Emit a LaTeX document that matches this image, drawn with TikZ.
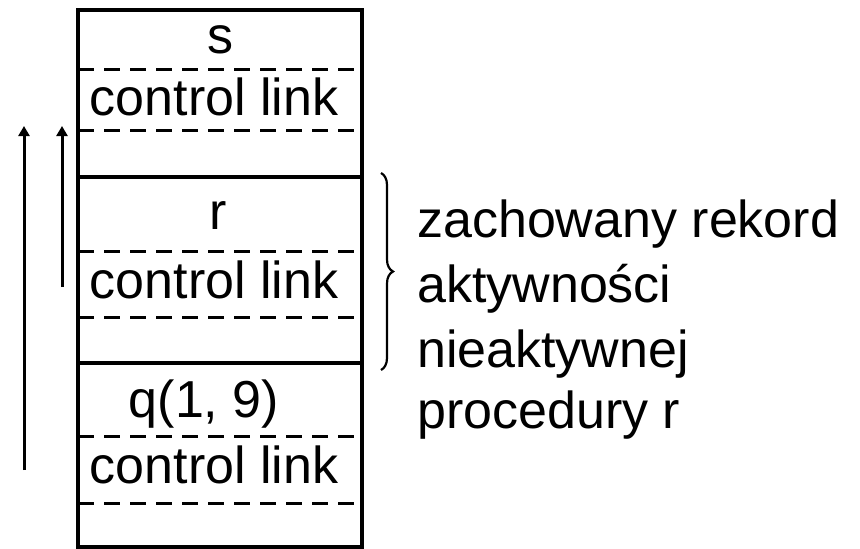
\documentclass[tikz,border=0pt]{standalone}
\usepackage{fontspec}
\setmainfont{Liberation Sans}
\usetikzlibrary{arrows.meta,decorations.pathreplacing}
\begin{document}
\begin{tikzpicture}[x=1pt,y=-1pt,
  frameline/.style={line width=3.2pt},
  sepline/.style={line width=3pt, dash pattern=on 16pt off 10pt},
  celltext/.style={anchor=base, inner sep=0pt, font=\fontsize{52}{62}\selectfont},
  desctext/.style={anchor=base west, inner sep=0pt, font=\fontsize{52}{62}\selectfont},
  linkarrow/.style={line width=3pt, -{Triangle[length=10pt,width=11pt]}},
  bracestyle/.style={line width=2.2pt, decorate, decoration={brace, amplitude=12pt}}
]
\useasboundingbox (0,0) rectangle (860,549);

% stack frame outline
\coordinate (tl) at (78,10);
\coordinate (br) at (362,547);
\draw[frameline] (tl) rectangle (br);

% solid borders between activation records
\draw[frameline] (78,177) -- (362,177);
\draw[frameline] (78,363) -- (362,363);

% dashed borders between fields
\foreach \yy in {69,130,251,317,436,503}
  \draw[sepline] (78,\yy) -- (362,\yy);

% field contents
\node[celltext] (s)   at (220,53)  {s};
\node[celltext] (cl1) at (214,115) {control link};
\node[celltext] (r)   at (218,229) {r};
\node[celltext] (cl2) at (214,298) {control link};
\node[celltext] (q)   at (204,417) {q(1, 9)};
\node[celltext] (cl3) at (214,483) {control link};

% control link arrows
\coordinate (a1s) at (24,470);
\coordinate (a1e) at (24,126);
\coordinate (a2s) at (62,287);
\coordinate (a2e) at (62,126);
\draw[linkarrow] (a1s) -- (a1e);
\draw[linkarrow] (a2s) -- (a2e);

% brace around the saved record
\coordinate (bt) at (381,173);
\coordinate (bb) at (381,370);
\draw[bracestyle] (bt) -- (bb);

% description, one line per node
\node[desctext] (d1) at (417,237) {zachowany rekord};
\node[desctext] (d2) at (417,302) {aktywności};
\node[desctext] (d3) at (417,367) {nieaktywnej};
\node[desctext] (d4) at (417,428) {procedury r};
\end{tikzpicture}
\end{document}
